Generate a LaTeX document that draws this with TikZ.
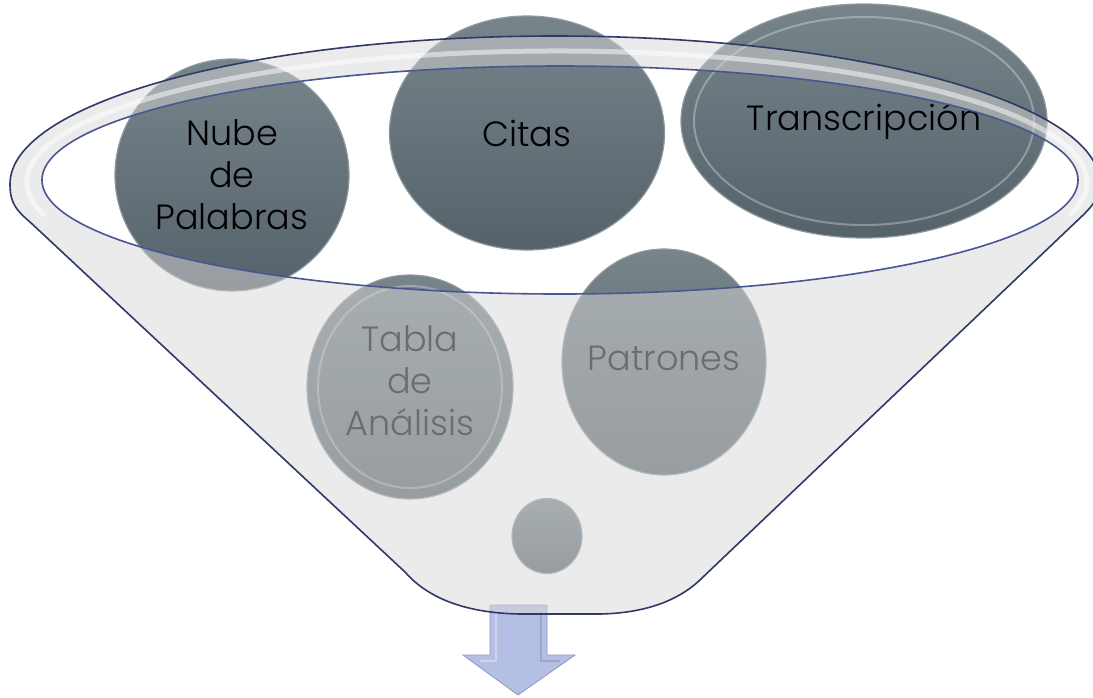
\documentclass[tikz,border=0pt]{standalone}
\usepackage{fontspec}
\setmainfont{Poppins Light}
\usetikzlibrary{shapes.geometric}
\definecolor{ballTop}{HTML}{77848A}
\definecolor{ballBot}{HTML}{56626A}
\definecolor{ballEdge}{HTML}{8E999F}
\definecolor{funnelGray}{HTML}{D8D8D8}
\definecolor{rimOuter}{HTML}{2F3A68}
\definecolor{rimInner}{HTML}{4A5692}
\definecolor{arrowFill}{HTML}{B5BEE3}
\definecolor{arrowEdge}{HTML}{8E98C6}
\tikzset{
  ball/.style={ellipse, inner sep=0pt, top color=ballTop, bottom color=ballBot,
    draw=ballEdge, line width=1.2pt, align=center, text=black,
    font=\fontsize{35}{42}\selectfont},
  label/.style={align=center, text=black, font=\fontsize{35}{42}\selectfont},
  bevel/.style={draw=white, opacity=0.3, line width=2pt},
  rimline/.style={line width=1.6pt, line join=round},
}
\begin{document}
\begin{tikzpicture}[x=1pt,y=-1pt]
\useasboundingbox (0,0) rectangle (1093,697);
\fill[white] (0,0) rectangle (1093,697);

% arrow (behind funnel bottom)
\coordinate (a1) at (490,605);
\coordinate (a2) at (547,605);
\coordinate (a3) at (547,655);
\coordinate (a4) at (575,655);
\coordinate (tip) at (518,695);
\coordinate (a6) at (463,655);
\coordinate (a7) at (490,655);
\fill[arrowFill, draw=arrowEdge, line width=0.8pt, line join=miter]
  (a1) -- (a2) -- (a3) -- (a4) -- (tip) -- (a6) -- (a7) -- cycle;
\draw[white, opacity=0.35, line width=2pt] (496,612) -- (496,661) -- (480,661);
\draw[black, opacity=0.12, line width=2pt] (541,612) -- (541,661) -- (560,661);

% balls
\node[ball, minimum width=234pt, minimum height=232pt] (nube) at (232,175) {Nube\\de\\Palabras};
\node[ball, minimum width=275pt, minimum height=234pt] (citas) at (527,133) {Citas};
\node[ball, minimum width=366pt, minimum height=234pt] (trans) at (864,121) {};
\draw[bevel] (trans.center) ellipse[x radius=170, y radius=104];
\node[label] (transtext) at (864,121) {Transcripción};
\node[ball, minimum width=206pt, minimum height=224pt] (tabla) at (410,387) {};
\draw[bevel] (tabla.center) ellipse[x radius=92, y radius=101];
\node[label] (tablatext) at (410,381) {Tabla\\de\\Análisis};
\node[ball, minimum width=204pt, minimum height=226pt] (patrones) at (664,362) {};
\node[label] (pattext) at (664,358) {Patrones};
\node[ball, minimum width=70pt, minimum height=75pt] (dot) at (547,536) {};

% funnel overlay
\fill[funnelGray, opacity=0.5, even odd rule]
  (1100,184) arc[start angle=0, end angle=-180, x radius=545, y radius=148]
  .. controls (10,203) and (16,210) .. (30,222)
  -- (405,572) .. controls (425,595) and (460,613) .. (520,614)
  -- (600,614) .. controls (650,613) and (682,598) .. (702,578)
  -- (1080,218) .. controls (1095,204) and (1100,195) .. (1100,184) -- cycle
  (560,180) ellipse[x radius=518, y radius=114];
% rim highlight
\draw[white, opacity=0.5, line width=5pt]
  (557,182) ++(165:530 and 131) arc[start angle=165, end angle=375, x radius=530, y radius=131];
% outlines
\draw[rimline, rimOuter]
  (1100,184) arc[start angle=0, end angle=-180, x radius=545, y radius=148]
  .. controls (10,203) and (16,210) .. (30,222)
  -- (405,572) .. controls (425,595) and (460,613) .. (520,614)
  -- (600,614) .. controls (650,613) and (682,598) .. (702,578)
  -- (1080,218) .. controls (1095,204) and (1100,195) .. (1100,184);
\draw[rimline, rimInner] (560,180) ellipse[x radius=518, y radius=114];
\end{tikzpicture}
\end{document}
